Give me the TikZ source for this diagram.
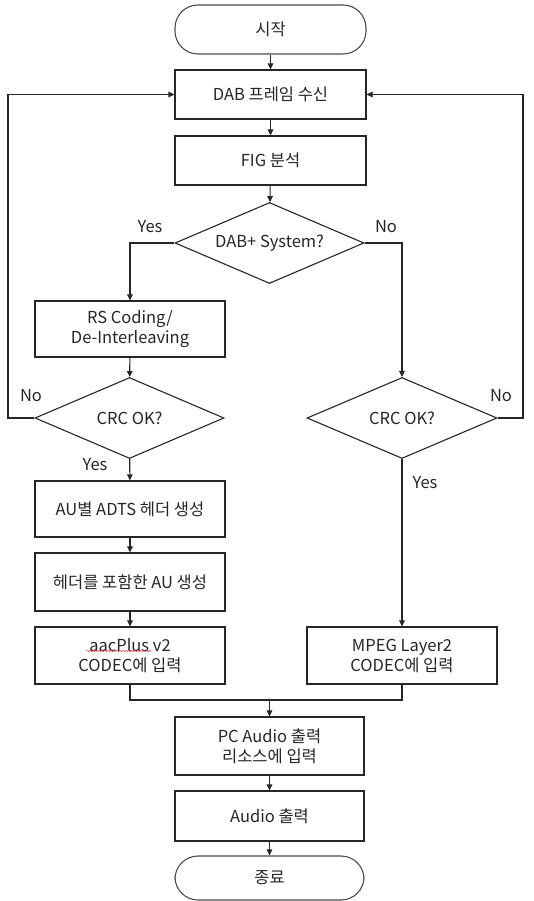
\documentclass[tikz,border=0pt]{standalone}
\usepackage{fontspec}
\setmainfont{Noto Sans CJK KR}
\usetikzlibrary{shapes.geometric,arrows.meta,decorations.pathmorphing}
\begin{document}
\begin{tikzpicture}[x=1pt,y=-1pt,
  every node/.style={font=\fontsize{16.5}{20}\selectfont, text=black!85},
  line/.style={draw=black!85, line width=1.1pt},
  arr/.style={line, -{Triangle[length=6pt,width=5.5pt]}},
  proc/.style={draw=black!85, line width=1.1pt, rectangle, inner sep=0pt, minimum width=190pt, align=center},
  term/.style={draw=black!70, line width=1.1pt, rectangle, rounded corners=23pt, inner sep=0pt, minimum width=191pt},
  dec/.style={draw=black!85, line width=1.1pt, diamond, inner sep=0pt, minimum width=189pt, minimum height=81pt, aspect=2.3},
  lbl/.style={inner sep=0pt}
]
\useasboundingbox (0,0) rectangle (534,901);
\node[term, minimum height=49pt] (start) at (270.5,29.5) {시작};
\node[proc, minimum width=191pt, minimum height=49pt] (dab) at (270.5,94.5) {DAB 프레임 수신};
\node[proc, minimum width=191pt, minimum height=49pt] (fig) at (270.5,160.5) {FIG 분석};
\node[dec] (sys) at (269.5,243) {DAB+ System?};
\node[proc, minimum height=56pt] (rs) at (130,329) {RS Coding/\\De-Interleaving};
\node[dec] (crcl) at (129.5,418) {CRC OK?};
\node[dec, minimum width=190pt] (crcr) at (402,418) {CRC OK?};
\node[proc, minimum height=56pt] (au) at (130,509) {AU별 ADTS 헤더 생성};
\node[proc, minimum height=58pt] (hdr) at (130,582) {헤더를 포함한 AU 생성};
\node[proc, minimum height=57pt] (aac) at (130,655.5) {aacPlus v2\\CODEC에 입력};
\node[proc, minimum height=57pt] (mpeg) at (402,655.5) {MPEG Layer2\\CODEC에 입력};
\node[proc, minimum width=189pt, minimum height=58pt] (pc) at (269.5,746) {PC Audio 출력\\리소스에 입력};
\node[proc, minimum width=189pt, minimum height=50pt] (audio) at (269.5,816) {Audio 출력};
\node[term, minimum width=189pt, minimum height=44pt] (end) at (269.5,878) {종료};
% spell-check underline
\draw[red!80, line width=0.5pt, decorate, decoration={snake, amplitude=0.6pt, segment length=3pt}] (86,651) -- (152,651);
% coordinates
\coordinate (lx) at (8,418);
\coordinate (rx) at (523,418);
\coordinate (mg) at (269.5,700);
% connectors
\draw[arr] (start) -- (dab);
\draw[arr] (dab) -- (fig);
\draw[arr] (fig) -- (sys);
\draw[arr] (sys.west) -| (rs.north);
\draw[arr] (sys.east) -| (crcr.north);
\draw[arr] (rs) -- (crcl);
\draw[arr] (crcl) -- (au);
\draw[arr] (au) -- (hdr);
\draw[arr] (hdr) -- (aac);
\draw[arr] (crcr) -- (mpeg);
\draw[arr] (crcl.west) -- (lx) |- (dab.west);
\draw[arr] (crcr.east) -- (rx) |- (dab.east);
\draw[line] (aac.south) |- (mg) -| (mpeg.south);
\draw[arr] (mg) -- (pc);
\draw[arr] (pc) -- (audio);
\draw[arr] (audio) -- (end);
% labels
\node[lbl] (ly1) at (150,227) {Yes};
\node[lbl] (ln1) at (386,227) {No};
\node[lbl] (ln2) at (31,396) {No};
\node[lbl] (ln3) at (501,396) {No};
\node[lbl] (ly2) at (95,465) {Yes};
\node[lbl] (ly3) at (425,483) {Yes};
\end{tikzpicture}
\end{document}
